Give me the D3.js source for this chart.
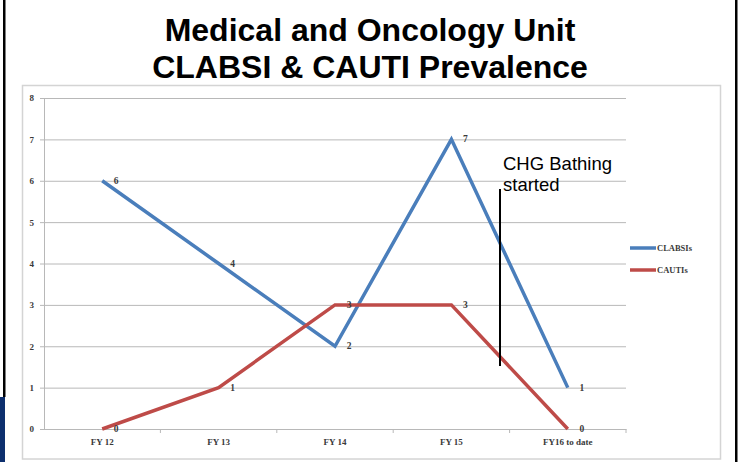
<!DOCTYPE html>
<html>
<head>
<meta charset="utf-8">
<script src="https://cdn.jsdelivr.net/npm/d3@7"></script>
<style>
  body { margin: 0; background: #fff; }
  svg { display: block; }
</style>
</head>
<body>
<div class="canvas"></div>
<script>
// data
const categories = ['FY 12', 'FY 13', 'FY 14', 'FY 15', 'FY16 to date'];
const clabsis = [6, 4, 2, 7, 1];
const cautis = [0, 1, 3, 3, 0];
const yTicks = [0, 1, 2, 3, 4, 5, 6, 7, 8];
const seriesNames = ['CLABSIs', 'CAUTIs'];
const titleLines = ['Medical and Oncology Unit', 'CLABSI & CAUTI Prevalence'];
const noteLines = ['CHG Bathing', 'started'];

const dims = { width: 740, height: 462 };
const plot = { left: 44, right: 626, top: 98, bottom: 429 };
const colour = d3.scaleOrdinal().domain(seriesNames).range(['#4a7ebb', '#be4b48']);

const svg = d3.select('.canvas')
  .append('svg')
  .attr('width', dims.width)
  .attr('height', dims.height);

// slide borders
svg.append('rect').attr('x', 3).attr('y', 0).attr('width', 2.5).attr('height', 397).attr('fill', '#000');
svg.append('rect').attr('x', 0).attr('y', 397).attr('width', 5).attr('height', 65).attr('fill', '#0d2f6e');
svg.append('rect').attr('x', 735).attr('y', 0).attr('width', 2.5).attr('height', dims.height).attr('fill', '#000');

// title
svg.append('g')
  .selectAll('text')
  .data(titleLines)
  .enter().append('text')
    .attr('x', 370)
    .attr('y', (d, i) => 41 + i * 37)
    .attr('text-anchor', 'middle')
    .attr('font-family', 'Liberation Sans, Arial, sans-serif')
    .attr('font-weight', 'bold')
    .attr('font-size', 32)
    .attr('fill', '#000')
    .text(d => d);

// chart area frame
svg.append('rect')
  .attr('x', 22.5).attr('y', 85.5)
  .attr('width', 698).attr('height', 373.5)
  .attr('fill', 'none')
  .attr('stroke', '#d4d4d4')
  .attr('stroke-width', 1.5);

// scales
const x = d3.scaleBand()
  .domain(categories)
  .range([plot.left, plot.right]);

const y = d3.scaleLinear()
  .domain([0, 8])
  .range([plot.bottom, plot.top]);

const cx = d => x(d) + x.bandwidth() / 2;

// gridlines
const graph = svg.append('g');

graph.append('g')
  .attr('transform', `translate(${plot.left}, 0)`)
  .call(d3.axisLeft(y).tickValues(yTicks).tickSize(-(plot.right - plot.left)).tickPadding(10))
  .call(g => g.select('.domain').remove())
  .call(g => g.selectAll('line').attr('stroke', '#b8b8b8'))
  .call(g => g.selectAll('text')
    .attr('font-family', 'Liberation Serif, serif')
    .attr('font-weight', 'bold')
    .attr('font-size', 9)
    .attr('fill', '#3a3a3a'));

// small outer ticks on the y axis
graph.append('g')
  .selectAll('line')
  .data(yTicks)
  .enter().append('line')
    .attr('x1', plot.left - 4).attr('x2', plot.left)
    .attr('y1', d => y(d) + 0.5).attr('y2', d => y(d) + 0.5)
    .attr('stroke', '#b8b8b8');

// y axis line
graph.append('line')
  .attr('x1', plot.left + 0.5).attr('x2', plot.left + 0.5)
  .attr('y1', plot.top).attr('y2', plot.bottom)
  .attr('stroke', '#b8b8b8');

// x axis
const xAxis = graph.append('g')
  .attr('transform', `translate(0, ${plot.bottom})`)
  .call(d3.axisBottom(x).tickSize(0).tickPadding(10));

xAxis.select('.domain').attr('stroke', '#b8b8b8');
xAxis.selectAll('text')
  .attr('font-family', 'Liberation Serif, serif')
  .attr('font-weight', 'bold')
  .attr('font-size', 9)
  .attr('fill', '#3a3a3a');

// ticks between categories
xAxis.append('g')
  .selectAll('line')
  .data(categories.slice(1).concat(['end']))
  .enter().append('line')
    .attr('x1', (d, i) => plot.left + x.bandwidth() * (i + 1))
    .attr('x2', (d, i) => plot.left + x.bandwidth() * (i + 1))
    .attr('y1', 0).attr('y2', 4)
    .attr('stroke', '#b8b8b8');

// lines
const series = [
  { name: seriesNames[0], values: clabsis },
  { name: seriesNames[1], values: cautis }
];

const line = d3.line()
  .x((d, i) => cx(categories[i]))
  .y(d => y(d));

graph.selectAll('path.series')
  .data(series)
  .enter().append('path')
    .attr('class', 'series')
    .attr('d', d => line(d.values))
    .attr('fill', 'none')
    .attr('stroke', d => colour(d.name))
    .attr('stroke-width', 3.5)
    .attr('stroke-linejoin', 'miter');

// data labels
series.forEach(s => {
  graph.append('g')
    .selectAll('text')
    .data(s.values)
    .enter().append('text')
      .attr('x', (d, i) => cx(categories[i]) + 14)
      .attr('y', d => y(d) + 3)
      .attr('text-anchor', 'middle')
      .attr('font-family', 'Liberation Serif, serif')
      .attr('font-weight', 'bold')
      .attr('font-size', 9.5)
      .attr('fill', '#3a3a3a')
      .text(d => d);
});

// legend
const legendGroup = svg.append('g')
  .attr('transform', 'translate(630, 248)');

const legendItems = legendGroup.selectAll('g')
  .data(seriesNames)
  .enter().append('g')
    .attr('transform', (d, i) => `translate(0, ${i * 22})`);

legendItems.append('line')
  .attr('x1', 0).attr('x2', 26)
  .attr('stroke', d => colour(d))
  .attr('stroke-width', 3.5);

legendItems.append('text')
  .attr('x', 27).attr('y', 3)
  .attr('font-family', 'Liberation Serif, serif')
  .attr('font-weight', 'bold')
  .attr('font-size', 8.5)
  .attr('fill', '#3a3a3a')
  .text(d => d);

// annotation
svg.append('line')
  .attr('x1', 500).attr('x2', 500)
  .attr('y1', 189).attr('y2', 366)
  .attr('stroke', '#000')
  .attr('stroke-width', 2);

svg.append('g')
  .selectAll('text')
  .data(noteLines)
  .enter().append('text')
    .attr('x', 503)
    .attr('y', (d, i) => 170 + i * 21)
    .attr('font-family', 'Liberation Sans, Arial, sans-serif')
    .attr('font-size', 18.5)
    .attr('fill', '#000')
    .text(d => d);
</script>
</body>
</html>
